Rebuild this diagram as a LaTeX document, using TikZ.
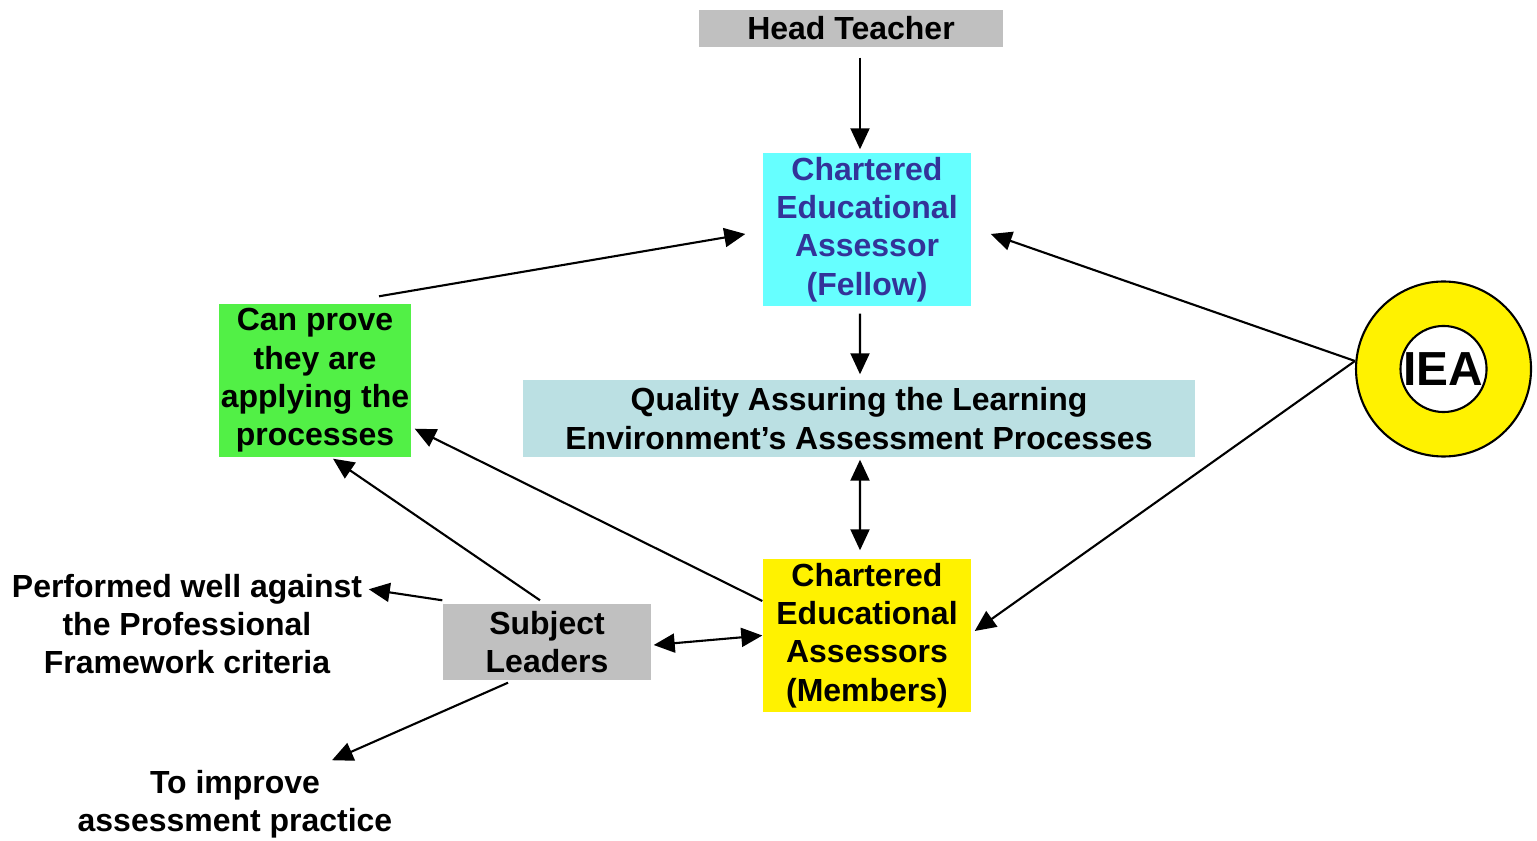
\documentclass[tikz,border=0pt]{standalone}
\usepackage{fontspec}
\setmainfont{Liberation Sans}
\usetikzlibrary{shapes,arrows.meta}
\definecolor{fellowcyan}{HTML}{66FFFF}
\definecolor{fellowtext}{HTML}{333399}
\definecolor{qablue}{HTML}{BBE0E3}
\definecolor{provegreen}{HTML}{52F046}
\definecolor{leadergray}{HTML}{C0C0C0}
\tikzstyle{box}=[rectangle,inner sep=0pt,align=center,font=\bfseries\fontsize{9.1}{10.9}\selectfont]
\tikzstyle{tallbox}=[box,execute at begin node={\rule{0pt}{9.4pt}}]
\tikzstyle{plain}=[inner sep=0pt,align=center,font=\bfseries\fontsize{9.1}{10.9}\selectfont]
\tikzstyle{link}=[line width=0.6pt,-{Triangle[length=0.21cm,width=0.19cm]}]
\tikzstyle{dlink}=[line width=0.6pt,{Triangle[length=0.21cm,width=0.19cm]}-{Triangle[length=0.21cm,width=0.19cm]}]
\newcommand{\tikzpicscale}{1}

\begin{document}
\begin{tikzpicture}[scale=\tikzpicscale]
    \useasboundingbox (0,0) rectangle (15.37,-8.41);
    \node[box,fill=leadergray,minimum width=3.04cm,minimum height=0.37cm] (ht) at (8.51,-0.285) {Head Teacher};
    \node[tallbox,fill=fellowcyan,text=fellowtext,minimum width=2.08cm,minimum height=1.53cm] (cea) at (8.67,-2.295)
        {Chartered\\Educational\\Assessor\\(Fellow)};
    \node[tallbox,fill=qablue,minimum width=6.72cm,minimum height=0.77cm] (qa) at (8.59,-4.185)
        {Quality Assuring the Learning\\Environment’s Assessment Processes};
    \node[tallbox,fill=provegreen,minimum width=1.92cm,minimum height=1.53cm] (proof) at (3.15,-3.805)
        {Can prove\\they are\\applying the\\processes};
    \node[tallbox,fill=yellow,minimum width=2.08cm,minimum height=1.53cm] (ceam) at (8.67,-6.355)
        {Chartered\\Educational\\Assessors\\(Members)};
    \node[tallbox,fill=leadergray,minimum width=2.08cm,minimum height=0.76cm] (sl) at (5.47,-6.42) {Subject\\Leaders};
%   IEA ring
    \node[circle,draw,line width=0.6pt,fill=yellow,minimum size=1.75cm,inner sep=0pt] (iea) at (14.435,-3.69) {};
    \node[circle,draw,line width=0.6pt,fill=white,minimum size=0.86cm,inner sep=0pt,
          font=\bfseries\fontsize{13.6}{16}\selectfont] (ieain) at (iea) {IEA};
    \node[plain] (perf) at (1.87,-6.24) {Performed well against\\the Professional\\Framework criteria};
    \node[plain] (impr) at (2.35,-8.04) {To improve\\assessment practice};

    \draw[link] ([xshift=0.09cm,yshift=-0.10cm]ht.south) -- ([xshift=-0.07cm,yshift=0.03cm]cea.north);
    \draw[link] ([xshift=-0.07cm,yshift=-0.07cm]cea.south) -- ([xshift=0.01cm,yshift=0.05cm]qa.north);
    \draw[dlink] ([xshift=0.01cm,yshift=-0.02cm]qa.south) -- ([xshift=-0.07cm,yshift=0.08cm]ceam.north);
    \draw[link] ([xshift=0.64cm,yshift=0.07cm]proof.north) -- ([xshift=-0.17cm,yshift=-0.045cm]cea.west);
    \draw[link] ([yshift=0.08cm]iea.west) -- ([xshift=0.19cm,yshift=-0.045cm]cea.east);
    \draw[link] ([yshift=0.08cm]iea.west) -- ([xshift=0.03cm,yshift=0.045cm]ceam.east);
    \draw[link] ([yshift=0.345cm]ceam.west) -- ([xshift=0.03cm,yshift=0.29cm]proof.south east);
    \draw[link] ([xshift=-0.07cm,yshift=0.03cm]sl.north) -- ([xshift=0.18cm,yshift=-0.01cm]proof.south);
    \draw[link] ([yshift=0.03cm]sl.north west) -- ([xshift=0.06cm,yshift=-0.16cm]perf.north east);
    \draw[link] ([xshift=-0.39cm,yshift=-0.02cm]sl.south) -- ([xshift=0.97cm,yshift=0.09cm]impr.north);
    \draw[dlink] ([xshift=0.02cm,yshift=-0.03cm]sl.east) -- (ceam.west);
\end{tikzpicture}
\end{document}
